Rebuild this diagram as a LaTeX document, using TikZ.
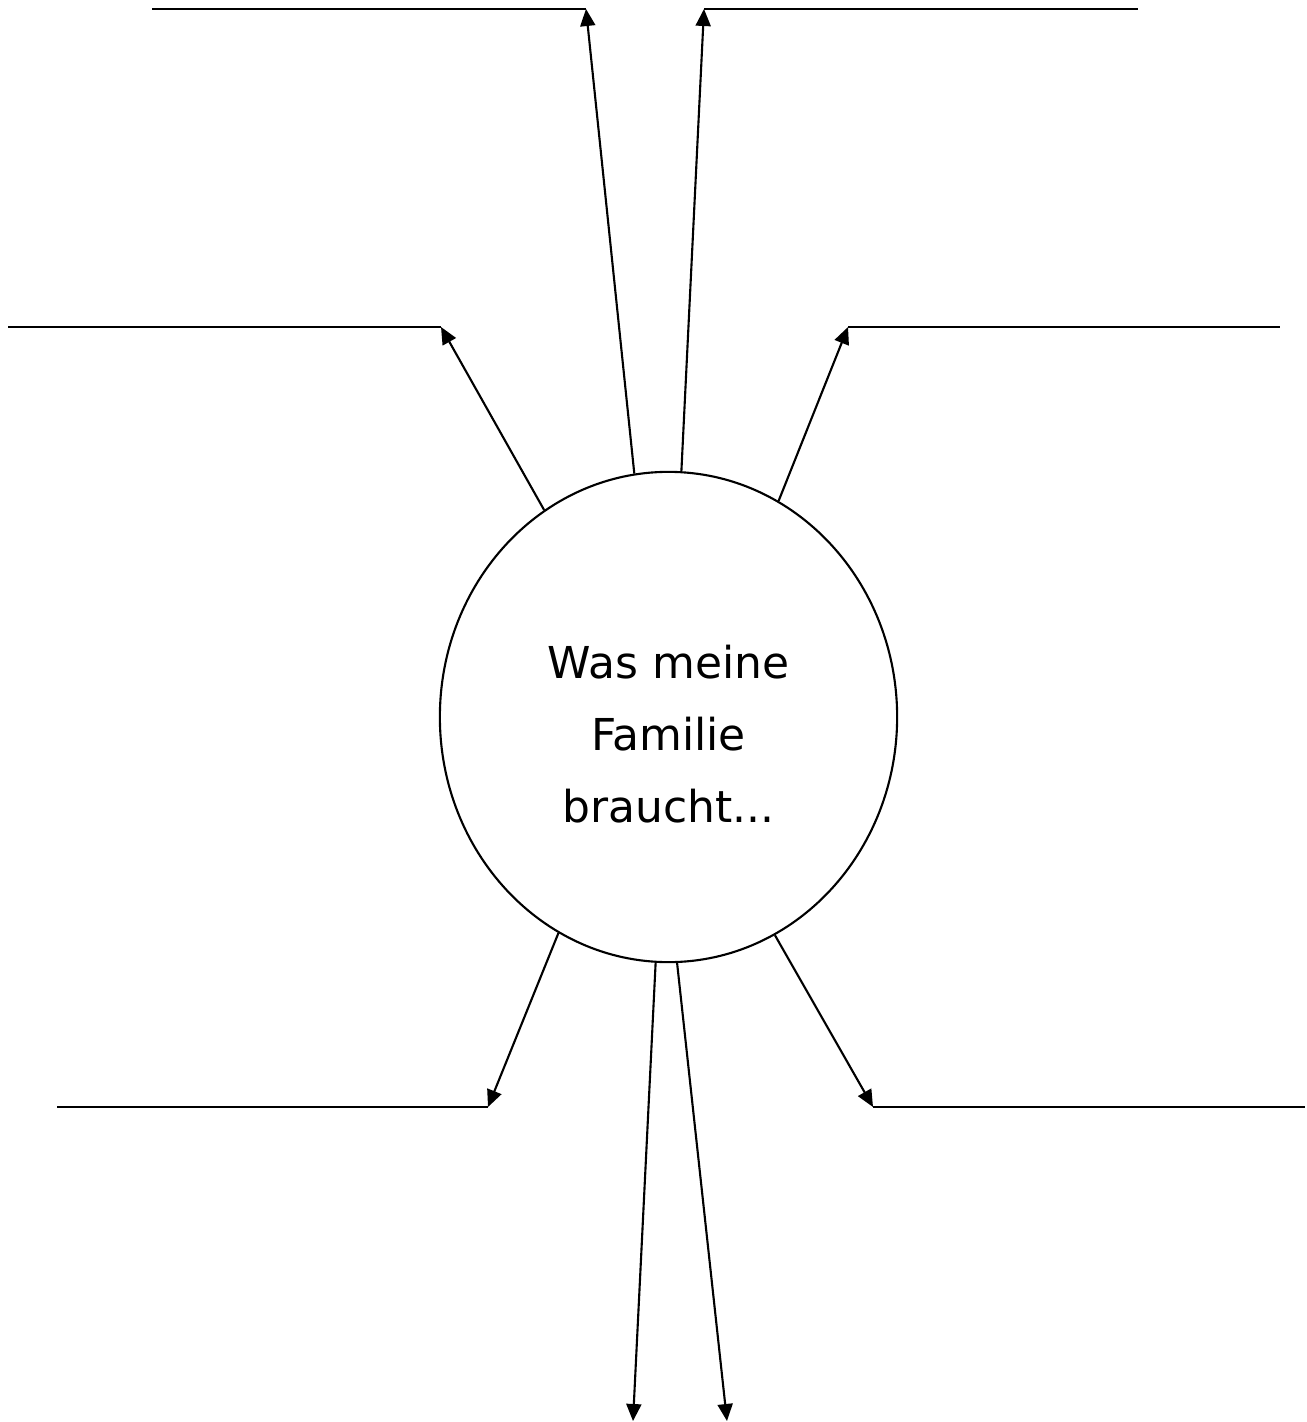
\documentclass[tikz,border=0pt]{standalone}
\usepackage{fontspec}
\setmainfont{DejaVu Sans}
\usetikzlibrary{shapes.geometric, arrows.meta}
\tikzstyle{bubble} = [ellipse, draw, line width=0.6pt, minimum width=4.57cm, minimum height=4.9cm, inner sep=0pt, align=center, text height=60pt, text depth=0pt, font=\fontsize{12.5}{20.5}\selectfont]
\tikzstyle{spoke} = [line width=0.6pt, -{Triangle[length=0.17cm, width=0.15cm]}]
\tikzstyle{blank} = [line width=0.6pt]

\begin{document}
\begin{tikzpicture}[x=0.01cm, y=-0.01cm]
    \useasboundingbox (0,0) rectangle (1307,1422);
    \node [bubble] at (668.5,717) (family) {Was meine\\Familie\\braucht...};
    % tips of the arrows
    \coordinate (upleft) at (586,9);
    \coordinate (upright) at (704,9);
    \coordinate (midleft) at (441,327);
    \coordinate (midright) at (848,327);
    \coordinate (lowleft) at (488,1107);
    \coordinate (lowright) at (873,1107);
    \coordinate (downleft) at (633,1421);
    \coordinate (downright) at (727,1421);
    % far ends of the lines
    \coordinate (upleftend) at (152,9);
    \coordinate (uprightend) at (1138,9);
    \coordinate (midleftend) at (8,327);
    \coordinate (midrightend) at (1280,327);
    \coordinate (lowleftend) at (57,1107);
    \coordinate (lowrightend) at (1305,1107);
    \draw [spoke] (family.98.2) -- (upleft);
    \draw [spoke] (family.87.1) -- (upright);
    \draw [spoke] (family.121.2) -- (midleft);
    \draw [spoke] (family.63.5) -- (midright);
    \draw [spoke] (family.243.4) -- (lowleft);
    \draw [spoke] (family.296.6) -- (lowright);
    \draw [spoke] (family.267.3) -- (downleft);
    \draw [spoke] (family.272.9) -- (downright);
    \draw [blank] (upleft) -- (upleftend);
    \draw [blank] (upright) -- (uprightend);
    \draw [blank] (midleft) -- (midleftend);
    \draw [blank] (midright) -- (midrightend);
    \draw [blank] (lowleft) -- (lowleftend);
    \draw [blank] (lowright) -- (lowrightend);
\end{tikzpicture}
\end{document}
